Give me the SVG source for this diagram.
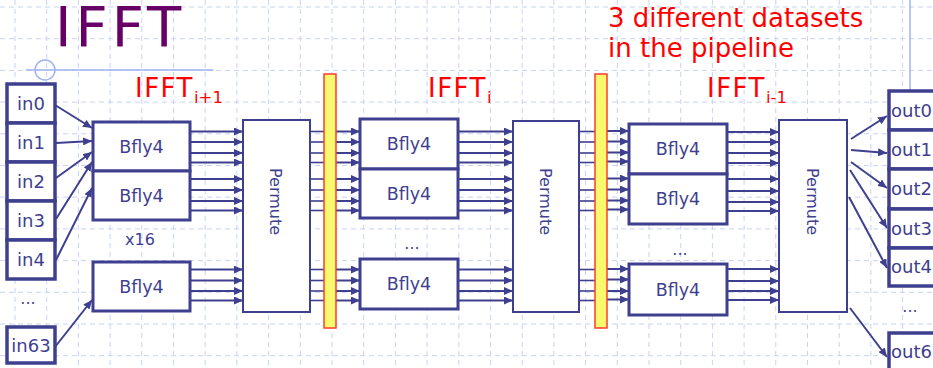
<svg xmlns="http://www.w3.org/2000/svg" width="933" height="368" viewBox="0 0 933 368">
<defs>
<style>
.grid line{stroke:#c9d3f3;stroke-width:1;stroke-dasharray:5 4}
.guide{stroke:#9fb4f0;stroke-width:1.5;fill:none}
.io{fill:#fff;stroke:#3f3f8f;stroke-width:3.5}
.bf{fill:#fff;stroke:#3f3f8f;stroke-width:3}
.pm{fill:#fff;stroke:#3f3f8f;stroke-width:2}
.bar{fill:#f9f96e;stroke:#ff3b2f;stroke-width:1.5}
.t{font-family:"DejaVu Sans",Verdana,sans-serif;fill:#3f3f8f}
.lbl{font-size:18px}
.bft{font-size:17.5px;text-anchor:middle}
.pmt{font-size:16px;text-anchor:middle}
.red{font-family:"DejaVu Sans",Verdana,sans-serif;fill:#ff0000}
.arr{stroke:#3f3f8f;stroke-width:2;marker-end:url(#ah)}
.pl{stroke:#3f3f8f;stroke-width:1.6}
</style>
<marker id="ah" markerUnits="userSpaceOnUse" markerWidth="10" markerHeight="8" refX="9" refY="4" orient="auto">
<path d="M0,0 L9,4 L0,8 z" fill="#3f3f8f"/>
</marker>
</defs>
<rect width="933" height="368" fill="#fff"/>
<g class="grid">
<line x1="15" y1="0" x2="15" y2="368"/><line x1="46.7" y1="0" x2="46.7" y2="368"/><line x1="78.4" y1="0" x2="78.4" y2="368"/><line x1="110.1" y1="0" x2="110.1" y2="368"/><line x1="141.8" y1="0" x2="141.8" y2="368"/><line x1="173.5" y1="0" x2="173.5" y2="368"/><line x1="205.2" y1="0" x2="205.2" y2="368"/><line x1="236.9" y1="0" x2="236.9" y2="368"/><line x1="268.6" y1="0" x2="268.6" y2="368"/><line x1="300.3" y1="0" x2="300.3" y2="368"/><line x1="332" y1="0" x2="332" y2="368"/><line x1="363.7" y1="0" x2="363.7" y2="368"/><line x1="395.4" y1="0" x2="395.4" y2="368"/><line x1="427.1" y1="0" x2="427.1" y2="368"/><line x1="458.8" y1="0" x2="458.8" y2="368"/><line x1="490.5" y1="0" x2="490.5" y2="368"/><line x1="522.2" y1="0" x2="522.2" y2="368"/><line x1="553.9" y1="0" x2="553.9" y2="368"/><line x1="585.6" y1="0" x2="585.6" y2="368"/><line x1="617.3" y1="0" x2="617.3" y2="368"/><line x1="649" y1="0" x2="649" y2="368"/><line x1="680.7" y1="0" x2="680.7" y2="368"/><line x1="712.4" y1="0" x2="712.4" y2="368"/><line x1="744.1" y1="0" x2="744.1" y2="368"/><line x1="775.8" y1="0" x2="775.8" y2="368"/><line x1="807.5" y1="0" x2="807.5" y2="368"/><line x1="839.2" y1="0" x2="839.2" y2="368"/><line x1="870.9" y1="0" x2="870.9" y2="368"/><line x1="902.6" y1="0" x2="902.6" y2="368"/>
<line x1="0" y1="7" x2="933" y2="7"/><line x1="0" y1="38.7" x2="933" y2="38.7"/><line x1="0" y1="70.4" x2="933" y2="70.4"/><line x1="0" y1="102.1" x2="933" y2="102.1"/><line x1="0" y1="133.8" x2="933" y2="133.8"/><line x1="0" y1="165.5" x2="933" y2="165.5"/><line x1="0" y1="197.2" x2="933" y2="197.2"/><line x1="0" y1="228.9" x2="933" y2="228.9"/><line x1="0" y1="260.6" x2="933" y2="260.6"/><line x1="0" y1="292.3" x2="933" y2="292.3"/><line x1="0" y1="324" x2="933" y2="324"/><line x1="0" y1="355.7" x2="933" y2="355.7"/>
</g>
<g id="guides">
<line class="guide" x1="26" y1="70" x2="213" y2="70"/>
<circle class="guide" cx="45" cy="70" r="10"/>
<line class="guide" x1="910" y1="0" x2="910" y2="158"/>
</g>
<text x="55" y="46" font-family="DejaVu Sans, Verdana, sans-serif" font-size="56" letter-spacing="4" fill="#660066">IFFT</text>
<text class="red" x="608" y="27" font-size="26">3 different datasets</text>
<text class="red" x="608" y="57" font-size="26">in the pipeline</text>
<text class="red" x="135" y="97" font-size="26" letter-spacing="1.5">IFFT<tspan font-size="16.5" dy="6" letter-spacing="0">i+1</tspan></text>
<text class="red" x="428" y="97" font-size="26" letter-spacing="1.5">IFFT<tspan font-size="16.5" dy="6" letter-spacing="0">i</tspan></text>
<text class="red" x="707" y="97" font-size="26" letter-spacing="1.5">IFFT<tspan font-size="16.5" dy="6" letter-spacing="0">i-1</tspan></text>

<g id="connectors">
<line class="arr" x1="55" y1="105" x2="92" y2="128"/>
<line class="arr" x1="56" y1="143" x2="92" y2="141"/>
<line class="arr" x1="56" y1="178" x2="92" y2="152"/>
<line class="arr" x1="56" y1="219" x2="92" y2="162"/>
<line class="arr" x1="56" y1="260" x2="92" y2="188"/>
<line class="arr" x1="55" y1="347" x2="92" y2="300"/>
<g id="s1out">
<line class="arr" x1="190" y1="131.5" x2="243" y2="131.5"/><line class="arr" x1="190" y1="142" x2="243" y2="142"/><line class="arr" x1="190" y1="153" x2="243" y2="153"/><line class="arr" x1="190" y1="162.5" x2="243" y2="162.5"/>
<line class="arr" x1="190" y1="179" x2="243" y2="179"/><line class="arr" x1="190" y1="190" x2="243" y2="190"/><line class="arr" x1="190" y1="201" x2="243" y2="201"/><line class="arr" x1="190" y1="210.5" x2="243" y2="210.5"/>
<line class="arr" x1="190" y1="269.5" x2="243" y2="269.5"/><line class="arr" x1="190" y1="280.5" x2="243" y2="280.5"/><line class="arr" x1="190" y1="291" x2="243" y2="291"/><line class="arr" x1="190" y1="300.5" x2="243" y2="300.5"/>
</g>
<g id="p1bar">
<line class="pl" x1="310" y1="131.5" x2="324" y2="131.5"/><line class="pl" x1="310" y1="142" x2="324" y2="142"/><line class="pl" x1="310" y1="153" x2="324" y2="153"/><line class="pl" x1="310" y1="162.5" x2="324" y2="162.5"/>
<line class="pl" x1="310" y1="179" x2="324" y2="179"/><line class="pl" x1="310" y1="190" x2="324" y2="190"/><line class="pl" x1="310" y1="201" x2="324" y2="201"/><line class="pl" x1="310" y1="210.5" x2="324" y2="210.5"/>
<line class="pl" x1="310" y1="269.5" x2="324" y2="269.5"/><line class="pl" x1="310" y1="280.5" x2="324" y2="280.5"/><line class="pl" x1="310" y1="291" x2="324" y2="291"/><line class="pl" x1="310" y1="300.5" x2="324" y2="300.5"/>
</g>
<g id="bar1s2">
<line class="arr" x1="336" y1="131.5" x2="360" y2="131.5"/><line class="arr" x1="336" y1="142" x2="360" y2="142"/><line class="arr" x1="336" y1="153" x2="360" y2="153"/><line class="arr" x1="336" y1="162.5" x2="360" y2="162.5"/>
<line class="arr" x1="336" y1="179" x2="360" y2="179"/><line class="arr" x1="336" y1="190" x2="360" y2="190"/><line class="arr" x1="336" y1="201" x2="360" y2="201"/><line class="arr" x1="336" y1="210.5" x2="360" y2="210.5"/>
<line class="arr" x1="336" y1="269.5" x2="360" y2="269.5"/><line class="arr" x1="336" y1="280.5" x2="360" y2="280.5"/><line class="arr" x1="336" y1="291" x2="360" y2="291"/><line class="arr" x1="336" y1="300.5" x2="360" y2="300.5"/>
</g>
<g id="s2out">
<line class="arr" x1="458" y1="131.5" x2="513" y2="131.5"/><line class="arr" x1="458" y1="142" x2="513" y2="142"/><line class="arr" x1="458" y1="153" x2="513" y2="153"/><line class="arr" x1="458" y1="162.5" x2="513" y2="162.5"/>
<line class="arr" x1="458" y1="179" x2="513" y2="179"/><line class="arr" x1="458" y1="190" x2="513" y2="190"/><line class="arr" x1="458" y1="201" x2="513" y2="201"/><line class="arr" x1="458" y1="210.5" x2="513" y2="210.5"/>
<line class="arr" x1="458" y1="269.5" x2="513" y2="269.5"/><line class="arr" x1="458" y1="280.5" x2="513" y2="280.5"/><line class="arr" x1="458" y1="291" x2="513" y2="291"/><line class="arr" x1="458" y1="300.5" x2="513" y2="300.5"/>
</g>
<g id="p2bar">
<line class="pl" x1="579" y1="131.5" x2="595" y2="131.5"/><line class="pl" x1="579" y1="142" x2="595" y2="142"/><line class="pl" x1="579" y1="153" x2="595" y2="153"/><line class="pl" x1="579" y1="162.5" x2="595" y2="162.5"/>
<line class="pl" x1="579" y1="179" x2="595" y2="179"/><line class="pl" x1="579" y1="190" x2="595" y2="190"/><line class="pl" x1="579" y1="201" x2="595" y2="201"/><line class="pl" x1="579" y1="210.5" x2="595" y2="210.5"/>
<line class="pl" x1="579" y1="269.5" x2="595" y2="269.5"/><line class="pl" x1="579" y1="280.5" x2="595" y2="280.5"/><line class="pl" x1="579" y1="291" x2="595" y2="291"/><line class="pl" x1="579" y1="300.5" x2="595" y2="300.5"/>
</g>
<g id="bar2s3">
<line class="arr" x1="607" y1="131" x2="629" y2="131"/><line class="arr" x1="607" y1="141.5" x2="629" y2="141.5"/><line class="arr" x1="607" y1="152.5" x2="629" y2="152.5"/><line class="arr" x1="607" y1="161.5" x2="629" y2="161.5"/>
<line class="arr" x1="607" y1="178.5" x2="629" y2="178.5"/><line class="arr" x1="607" y1="189.5" x2="629" y2="189.5"/><line class="arr" x1="607" y1="200.5" x2="629" y2="200.5"/><line class="arr" x1="607" y1="209.5" x2="629" y2="209.5"/>
<line class="arr" x1="607" y1="269" x2="629" y2="269"/><line class="arr" x1="607" y1="279.5" x2="629" y2="279.5"/><line class="arr" x1="607" y1="291" x2="629" y2="291"/><line class="arr" x1="607" y1="299.5" x2="629" y2="299.5"/>
</g>
<g id="s3out">
<line class="arr" x1="727" y1="132" x2="779" y2="132"/><line class="arr" x1="727" y1="142" x2="779" y2="142"/><line class="arr" x1="727" y1="153" x2="779" y2="153"/><line class="arr" x1="727" y1="163" x2="779" y2="163"/>
<line class="arr" x1="727" y1="179" x2="779" y2="179"/><line class="arr" x1="727" y1="191" x2="779" y2="191"/><line class="arr" x1="727" y1="202" x2="779" y2="202"/><line class="arr" x1="727" y1="211" x2="779" y2="211"/>
<line class="arr" x1="727" y1="269" x2="779" y2="269"/><line class="arr" x1="727" y1="281" x2="779" y2="281"/><line class="arr" x1="727" y1="291" x2="779" y2="291"/><line class="arr" x1="727" y1="300" x2="779" y2="300"/>
</g>
<line class="arr" x1="851" y1="139" x2="887" y2="116"/>
<line class="arr" x1="851" y1="150" x2="887" y2="153"/>
<line class="arr" x1="851" y1="162" x2="887" y2="188"/>
<line class="arr" x1="850" y1="170" x2="887" y2="228"/>
<line class="arr" x1="849" y1="197" x2="887" y2="268"/>
<line class="arr" x1="850" y1="308" x2="887" y2="357"/>
</g>

<g id="in0"><rect class="io" x="7" y="84" width="48" height="39"/><text class="t lbl" x="31" y="110" text-anchor="middle">in0</text></g>
<g id="in1"><rect class="io" x="7" y="123" width="48" height="39"/><text class="t lbl" x="31" y="149" text-anchor="middle">in1</text></g>
<g id="in2"><rect class="io" x="7" y="162" width="48" height="39"/><text class="t lbl" x="31" y="188" text-anchor="middle">in2</text></g>
<g id="in3"><rect class="io" x="7" y="201" width="48" height="39"/><text class="t lbl" x="31" y="227" text-anchor="middle">in3</text></g>
<g id="in4"><rect class="io" x="7" y="240" width="48" height="39"/><text class="t lbl" x="31" y="266" text-anchor="middle">in4</text></g>
<text class="t" x="28" y="304" font-size="16" text-anchor="middle">...</text>
<g id="in63"><rect class="io" x="7" y="327" width="48" height="36"/><text class="t lbl" x="31" y="352" text-anchor="middle">in63</text></g>

<g id="bfly1a"><rect class="bf" x="93" y="122" width="97" height="49"/><text class="t bft" x="141.5" y="153">Bfly4</text></g>
<g id="bfly1b"><rect class="bf" x="93" y="171" width="97" height="49"/><text class="t bft" x="141.5" y="202">Bfly4</text></g>
<text class="t" x="140" y="245" font-size="16" text-anchor="middle">x16</text>
<g id="bfly1c"><rect class="bf" x="93" y="262" width="97" height="49"/><text class="t bft" x="141.5" y="293">Bfly4</text></g>

<g id="permute1"><rect class="pm" x="243" y="120" width="67" height="192"/><text class="t pmt" transform="translate(270,201.5) rotate(90)">Permute</text></g>
<g id="bar1"><rect class="bar" x="324" y="74" width="12" height="254"/></g>

<g id="bfly2a"><rect class="bf" x="360" y="119" width="98" height="50"/><text class="t bft" x="409" y="150">Bfly4</text></g>
<g id="bfly2b"><rect class="bf" x="360" y="169" width="98" height="49"/><text class="t bft" x="409" y="200">Bfly4</text></g>
<text class="t" x="412" y="249" font-size="16" text-anchor="middle">...</text>
<g id="bfly2c"><rect class="bf" x="360" y="259" width="98" height="50"/><text class="t bft" x="409" y="290">Bfly4</text></g>

<g id="permute2"><rect class="pm" x="513" y="121" width="66" height="191"/><text class="t pmt" transform="translate(539.5,201.5) rotate(90)">Permute</text></g>
<g id="bar2"><rect class="bar" x="595" y="74" width="12" height="254"/></g>

<g id="bfly3a"><rect class="bf" x="629" y="124" width="98" height="50"/><text class="t bft" x="678" y="155">Bfly4</text></g>
<g id="bfly3b"><rect class="bf" x="629" y="174" width="98" height="50"/><text class="t bft" x="678" y="205">Bfly4</text></g>
<text class="t" x="680" y="255" font-size="16" text-anchor="middle">...</text>
<g id="bfly3c"><rect class="bf" x="629" y="264" width="98" height="51"/><text class="t bft" x="678" y="296">Bfly4</text></g>

<g id="permute3"><rect class="pm" x="779" y="120" width="68" height="192"/><text class="t pmt" transform="translate(807,201.5) rotate(90)">Permute</text></g>

<g id="out0"><rect class="io" x="889" y="91" width="60" height="39"/><text class="t lbl" x="891" y="117">out0</text></g>
<g id="out1"><rect class="io" x="889" y="130" width="60" height="39"/><text class="t lbl" x="891" y="156">out1</text></g>
<g id="out2"><rect class="io" x="889" y="169" width="60" height="40"/><text class="t lbl" x="891" y="195">out2</text></g>
<g id="out3"><rect class="io" x="889" y="209" width="60" height="39"/><text class="t lbl" x="891" y="235">out3</text></g>
<g id="out4"><rect class="io" x="889" y="248" width="60" height="38"/><text class="t lbl" x="891" y="273">out4</text></g>
<text class="t" x="910" y="312" font-size="16" text-anchor="middle">...</text>
<g id="out63"><rect class="io" x="889" y="333" width="60" height="45"/><text class="t lbl" x="891" y="358">out63</text></g>
</svg>
